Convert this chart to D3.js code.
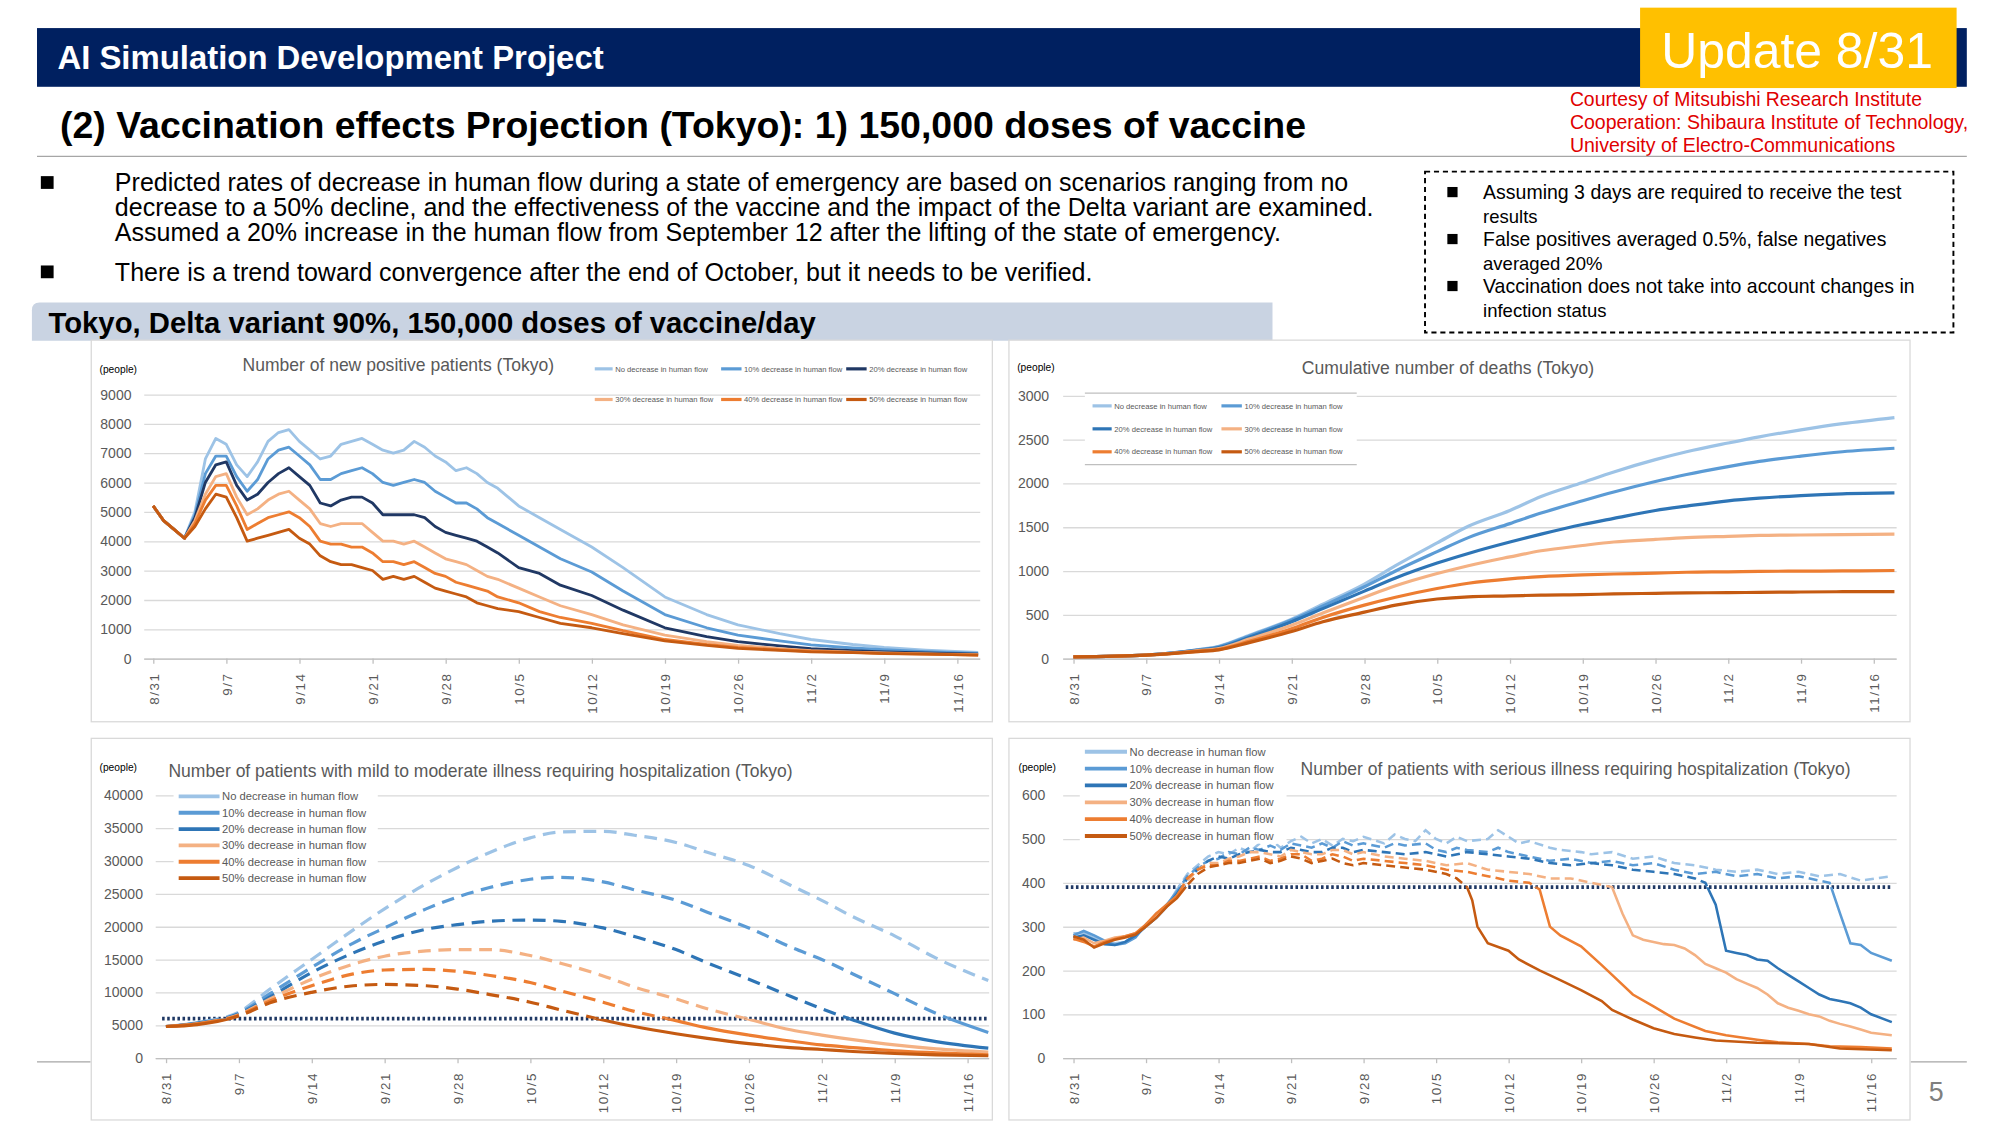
<!DOCTYPE html>
<html>
<head>
<meta charset="utf-8">
<script src="https://cdn.jsdelivr.net/npm/d3@7"></script>
<style>
body { margin: 0; background: #fff; }
svg { display: block; font-family: "Liberation Sans", Arial, sans-serif; }
</style>
</head>
<body>
<div id="slide"></div>
<script>
// ---- data ----
const scenarioLabels = ["No decrease in human flow", "10% decrease in human flow", "20% decrease in human flow",
  "30% decrease in human flow", "40% decrease in human flow", "50% decrease in human flow"]
const weekDays = [0, 7, 14, 21, 28, 35, 42, 49, 56, 63, 70, 77]
const weekLabels = ["8/31", "9/7", "9/14", "9/21", "9/28", "10/5", "10/12", "10/19", "10/26", "11/2", "11/9", "11/16"]

// new positive patients (day offsets from 8/31)
const newDays = [0,1,2,3,4,5,6,7,8,9,10,11,12,13,14,15,16,17,18,19,20,21,22,23,24,25,26,27,28,29,30,31,32,33,35,37,39,42,45,49,53,56,60,63,67,70,74,79]
const newNoDec = [5200,4700,4400,4100,5000,6800,7500,7300,6600,6200,6700,7400,7700,7800,7400,7100,6800,6900,7300,7400,7500,7300,7100,7000,7100,7400,7200,6900,6700,6400,6500,6300,6000,5800,5200,4800,4400,3800,3100,2100,1500,1150,850,650,480,380,290,210]
const newDec10 = [5200,4700,4400,4100,4900,6300,6900,6900,6200,5700,6100,6800,7100,7200,6900,6600,6100,6100,6300,6400,6500,6300,6000,5900,6000,6100,6000,5700,5500,5300,5300,5100,4800,4600,4200,3800,3400,2950,2300,1500,1050,800,600,470,360,300,240,180]
const newDec20 = [5200,4700,4400,4100,4800,6000,6600,6700,5900,5400,5600,6000,6300,6500,6200,5900,5300,5200,5400,5500,5500,5300,4900,4900,4900,4900,4800,4500,4300,4200,4100,4000,3800,3600,3100,2900,2500,2150,1650,1050,750,580,430,340,270,230,190,150]
const newDec30 = [5200,4700,4400,4100,4700,5600,6200,6300,5500,4900,5100,5400,5600,5700,5400,5100,4600,4500,4600,4600,4600,4300,4000,4000,3900,4000,3800,3600,3400,3300,3200,3000,2800,2700,2400,2100,1800,1500,1150,800,580,450,340,270,220,190,160,130]
const newDec40 = [5200,4700,4400,4100,4600,5400,5900,5900,5200,4400,4600,4800,4900,5000,4800,4500,4000,3900,3900,3800,3800,3600,3300,3300,3200,3300,3100,2900,2800,2600,2500,2400,2300,2100,1900,1600,1400,1200,950,650,480,380,300,250,210,180,150,120]
const newDec50 = [5200,4700,4400,4100,4500,5100,5600,5500,4800,4000,4100,4200,4300,4400,4100,3900,3500,3300,3200,3200,3100,3000,2700,2800,2700,2800,2600,2400,2300,2200,2100,1900,1800,1700,1600,1400,1200,1050,850,600,450,350,280,230,200,170,150,120]

// cumulative deaths
const deathDays = [0,7,10,12,14,17,21,24,28,31,35,38,42,45,49,52,56,59,63,66,70,74,79]
const deathNoDec = [20,40,70,100,140,270,450,620,850,1060,1320,1510,1690,1850,2010,2130,2270,2360,2460,2530,2610,2680,2750]
const deathDec10 = [20,40,70,100,135,260,440,600,820,1000,1220,1380,1540,1660,1800,1900,2020,2100,2190,2250,2310,2360,2400]
const deathDec20 = [20,40,68,95,125,245,420,570,770,920,1090,1200,1330,1420,1530,1600,1690,1740,1800,1830,1860,1880,1890]
const deathDec30 = [20,40,66,90,115,225,380,520,700,830,970,1060,1160,1230,1290,1330,1360,1380,1395,1405,1410,1415,1420]
const deathDec40 = [20,40,64,85,105,200,340,470,610,700,800,860,910,935,955,965,975,985,990,995,998,1000,1005]
const deathDec50 = [20,40,62,80,100,185,310,420,530,610,680,705,715,725,730,738,745,750,752,756,760,763,765]

// mild to moderate inpatients
const mildDays = [0,3,7,10,14,18,21,25,28,31,35,38,42,45,49,52,56,60,63,66,70,74,79]
const mildNoDec = [4800,5400,7000,10500,15000,19500,22700,26500,29000,31200,33500,34400,34500,33900,32800,31300,29300,26300,24000,21500,18600,15200,11800]
const mildDec10 = [4800,5300,6800,9800,13800,17500,19800,22700,24500,25900,27200,27500,26800,25600,24000,22200,19800,16900,15000,12800,9800,6800,3900]
const mildDec20 = [4800,5300,6700,9300,13000,16000,17800,19600,20300,20800,21000,20800,19800,18500,16500,14500,12000,9400,7500,5800,3800,2500,1500]
const mildDec30 = [4800,5200,6600,9000,12000,14300,15500,16300,16500,16500,15600,14400,12500,10800,9000,7500,5900,4300,3500,2800,2000,1400,900]
const mildDec40 = [4800,5200,6500,8700,11000,12800,13400,13500,13200,12600,11500,10200,8500,7100,5700,4600,3500,2600,2000,1600,1100,800,500]
const mildDec50 = [4800,5100,6400,8400,10000,11000,11200,11000,10500,9700,8500,7300,5800,4800,3700,3000,2200,1600,1300,1000,700,500,350]
const mildCapacity = 6000

// serious inpatients, [day, people]
const seriousNoDec = [[0,285],[1,285],[2,275],[3,265],[4,262],[5,265],[6,280],[7,300],[8,330],[9,345],[10,385],[11,420],[12,440],[13,460],[14,470],[15,465],[16,480],[17,470],[18,490],[19,500],[20,480],[21,495],[22,505],[23,490],[24,500],[25,485],[26,500],[27,495],[28,505],[30,490],[31,510],[32,500],[33,495],[34,520],[35,500],[36,490],[37,505],[38,495],[40,500],[41,520],[42,505],[43,490],[44,495],[46,480],[47,475],[49,470],[50,465],[52,470],[54,455],[56,460],[58,445],[60,440],[62,430],[64,425],[66,430],[68,420],[70,425],[72,415],[74,420],[76,405],[79,415]]
const seriousDec10 = [[0,280],[1,290],[2,280],[3,268],[4,258],[5,262],[6,275],[7,305],[8,325],[9,350],[10,380],[11,415],[12,435],[13,450],[14,455],[15,470],[16,465],[17,480],[18,475],[19,485],[20,475],[21,490],[22,485],[23,480],[24,490],[25,480],[26,495],[27,485],[28,490],[30,480],[31,490],[32,485],[34,490],[35,475],[36,470],[37,480],[38,475],[40,470],[41,480],[42,470],[44,460],[46,450],[48,455],[50,445],[52,450],[54,440],[56,445],[58,430],[60,420],[62,425],[64,415],[66,420],[68,410],[70,415],[72,405],[73,400],[74,330],[75,262],[76,258],[77,240],[79,222]]
const seriousDec20 = [[0,275],[1,280],[2,270],[3,260],[4,258],[5,265],[6,280],[7,300],[8,320],[9,345],[10,375],[11,410],[12,430],[13,450],[14,460],[15,455],[16,465],[17,470],[18,475],[19,470],[20,470],[21,480],[22,475],[23,470],[24,470],[25,480],[26,480],[27,470],[28,475],[30,470],[32,465],[34,470],[36,460],[38,470],[40,465],[42,460],[44,455],[46,445],[48,440],[50,445],[52,440],[54,430],[56,425],[58,420],[60,410],[61,400],[62,350],[63,245],[64,240],[65,235],[66,225],[67,222],[68,205],[69,190],[70,175],[71,160],[72,145],[73,135],[74,130],[75,125],[76,115],[77,100],[79,82]]
const seriousDec30 = [[0,270],[1,275],[2,262],[3,268],[4,275],[5,278],[6,285],[7,300],[8,325],[9,345],[10,370],[11,405],[12,430],[13,445],[14,445],[15,455],[16,460],[17,470],[18,470],[19,465],[20,460],[21,475],[22,470],[23,465],[24,465],[25,475],[26,475],[27,465],[28,470],[30,460],[32,455],[34,450],[36,440],[38,445],[40,430],[42,425],[44,420],[46,410],[48,410],[50,400],[52,390],[53,330],[54,280],[55,270],[56,265],[57,260],[58,258],[59,250],[60,235],[61,215],[62,205],[63,195],[64,180],[65,170],[66,160],[67,145],[68,125],[69,115],[70,108],[71,100],[72,95],[73,85],[74,78],[75,72],[76,65],[77,58],[79,52]]
const seriousDec40 = [[0,272],[1,265],[2,255],[3,265],[4,272],[5,278],[6,285],[7,305],[8,330],[9,350],[10,370],[11,410],[12,430],[13,440],[14,440],[15,450],[16,450],[17,455],[18,460],[19,450],[20,455],[21,465],[22,465],[23,450],[24,455],[25,465],[26,460],[27,450],[28,455],[30,450],[32,445],[34,440],[36,430],[38,425],[40,415],[42,405],[44,400],[45,385],[46,300],[47,280],[49,255],[51,212],[52,190],[54,145],[56,118],[58,90],[61,62],[63,52],[66,42],[68,36],[71,32],[73,27],[76,25],[79,22]]
const seriousDec50 = [[0,278],[1,270],[2,252],[3,262],[4,270],[5,275],[6,282],[7,300],[8,320],[9,345],[10,365],[11,395],[12,420],[13,435],[14,440],[15,445],[16,445],[17,450],[18,455],[19,445],[20,450],[21,460],[22,455],[23,445],[24,450],[25,455],[26,445],[27,440],[28,445],[30,440],[32,435],[34,430],[36,420],[37,410],[38,390],[38.5,360],[39,300],[40,262],[42,245],[43,225],[45,200],[47,178],[49,155],[51,130],[52,110],[54,88],[56,68],[58,55],[60,47],[62,40],[66,35],[71,32],[74,22],[79,18]]
const seriousCapacity = 390

// ---- styles ----
const blues = ["#9DC3E6", "#5B9BD5", "#2E75B6"]
const oranges = ["#F4B183", "#ED7D31", "#C55A11"]
const textGray = "#595959"

const W = 2000, H = 1126
const VW = 1567, VH = VW * H / W

const svg = d3.select("#slide").append("svg")
  .attr("width", W).attr("height", H)
  .attr("viewBox", `0 0 ${VW} ${VH}`)

// scale a text's font so it spans the width it has on the slide
const fit = (sel, w) => {
  const len = sel.node().getComputedTextLength()
  sel.attr("font-size", parseFloat(sel.attr("font-size")) * w / len)
  return sel
}

const addText = (x, y, str, size, opts = {}) => {
  const t = svg.append("text").attr("x", x).attr("y", y).text(str)
    .attr("font-size", size).attr("fill", opts.fill || "#000")
    .attr("font-weight", opts.bold ? "bold" : null)
    .attr("text-anchor", opts.anchor || null)
  if (opts.width) fit(t, opts.width)
  return t
}

// ---- header ----
svg.append("rect").attr("x", 29).attr("y", 22).attr("width", 1512).attr("height", 46).attr("fill", "#002060")
addText(45, 54, "AI Simulation Development Project", 22, { fill: "#fff", bold: true, width: 428 })
svg.append("rect").attr("x", 1285).attr("y", 6).attr("width", 248).attr("height", 63).attr("fill", "#FFC000")
addText(1408, 53, "Update 8/31", 38, { fill: "#fff", anchor: "middle", width: 213 })
addText(1230, 83, "Courtesy of Mitsubishi Research Institute", 14, { fill: "#E00000", width: 276 })
addText(1230, 101, "Cooperation: Shibaura Institute of Technology,", 14, { fill: "#E00000", width: 312 })
addText(1230, 119, "University of Electro-Communications", 14, { fill: "#E00000", width: 255 })
addText(47, 108, "(2) Vaccination effects Projection (Tokyo): 1) 150,000 doses of vaccine", 28, { bold: true, width: 976 })
svg.append("line").attr("x1", 29).attr("x2", 1541).attr("y1", 122.5).attr("y2", 122.5).attr("stroke", "#a6a6a6")

// bullets
svg.append("rect").attr("x", 32).attr("y", 138).attr("width", 10).attr("height", 10).attr("fill", "#000")
svg.append("rect").attr("x", 32).attr("y", 208).attr("width", 10).attr("height", 10).attr("fill", "#000")
addText(90, 150, "Predicted rates of decrease in human flow during a state of emergency are based on scenarios ranging from no", 18, { width: 967 })
addText(90, 169, "decrease to a 50% decline, and the effectiveness of the vaccine and the impact of the Delta variant are examined.", 18, { width: 986 })
addText(90, 189, "Assumed a 20% increase in the human flow from September 12 after the lifting of the state of emergency.", 18, { width: 914 })
addText(90, 220, "There is a trend toward convergence after the end of October, but it needs to be verified.", 18, { width: 766 })

// dashed note box
svg.append("rect").attr("x", 1116.5).attr("y", 134.5).attr("width", 414).attr("height", 126)
  .attr("fill", "none").attr("stroke", "#000").attr("stroke-width", 1.5).attr("stroke-dasharray", "4,3")
const notes = [
  ["Assuming 3 days are required to receive the test", 328], ["results", 0],
  ["False positives averaged 0.5%, false negatives", 316], ["averaged 20%", 0],
  ["Vaccination does not take into account changes in", 338], ["infection status", 0]
]
notes.forEach(([s, w], i) => {
  const yy = 156 + i * 18.4
  if (w) svg.append("rect").attr("x", 1134).attr("y", yy - 9.5).attr("width", 8).attr("height", 8).attr("fill", "#000")
  addText(1162, yy, s, 14.5, w ? { width: w } : {})
})

// banner
svg.append("path").attr("d", "M25,267V243Q25,237,31,237H997V267Z").attr("fill", "#C9D3E2")
addText(38, 261, "Tokyo, Delta variant 90%, 150,000 doses of vaccine/day", 22, { bold: true, width: 601 })

// footer
svg.append("line").attr("x1", 29).attr("x2", 71).attr("y1", 832).attr("y2", 832).attr("stroke", "#a6a6a6")
svg.append("line").attr("x1", 1497).attr("x2", 1541).attr("y1", 832).attr("y2", 832).attr("stroke", "#a6a6a6")
addText(1517, 863, "5", 21, { fill: "#7f7f7f", anchor: "middle" })

// ---- charts ----
let clipId = 0
const drawChart = (cfg) => {
  const g = svg.append("g")
  g.append("rect").attr("x", cfg.panel[0] + 0.5).attr("y", cfg.panel[1] + 0.5)
    .attr("width", cfg.panel[2]).attr("height", cfg.panel[3])
    .attr("fill", "#fff").attr("stroke", "#d9d9d9")

  const x = d3.scaleLinear().domain([0, 77]).range([cfg.x0, cfg.x1])
  const y = d3.scaleLinear().domain([0, cfg.yMax]).range([cfg.yBot, cfg.yTop])

  const yAxis = d3.axisLeft(y)
    .tickValues(d3.range(0, cfg.yMax + 1, cfg.yStep))
    .tickFormat(d3.format("d"))
    .tickSize(-(cfg.gx1 - cfg.gx0))
    .tickPadding(cfg.gx0 - cfg.yLabelX)
  g.append("g").attr("transform", `translate(${cfg.gx0},0)`).call(yAxis)
    .attr("font-family", null).attr("font-size", 11)
    .call(a => a.select(".domain").remove())
    .call(a => a.selectAll("line").attr("stroke", "#d9d9d9"))
    .call(a => a.selectAll("text").attr("fill", textGray))

  const xAxis = d3.axisBottom(x).tickValues(weekDays).tickFormat((d, i) => weekLabels[i]).tickSize(4)
  g.append("g").attr("transform", `translate(0,${cfg.yBot})`).call(xAxis)
    .attr("font-family", null).attr("font-size", 10.5)
    .call(a => a.select(".domain").remove())
    .call(a => a.selectAll("line").attr("stroke", "#bfbfbf"))
    .call(a => a.selectAll("text").attr("fill", textGray)
      .attr("transform", "rotate(-90)").attr("text-anchor", "end")
      .attr("x", -11).attr("y", 0).attr("dy", "0.35em").attr("letter-spacing", 1.2))
  g.append("line").attr("x1", cfg.gx0).attr("x2", cfg.gx1).attr("y1", cfg.yBot + 0.5).attr("y2", cfg.yBot + 0.5)
    .attr("stroke", "#bfbfbf")

  g.append("text").attr("x", cfg.people[0]).attr("y", cfg.people[1]).text("(people)")
    .attr("font-size", 8).attr("fill", "#000")
  const tt = g.append("text").attr("x", cfg.title[0]).attr("y", cfg.title[1]).text(cfg.titleText)
    .attr("font-size", 13).attr("fill", textGray)
  fit(tt, cfg.title[2])

  const line = d3.line().x(d => x(d[0])).y(d => y(d[1])).curve(cfg.curve || d3.curveLinear)

  if (cfg.capacity !== undefined) {
    const yc = y(cfg.capacity)
    const top = cfg.panel[1], bot = cfg.panel[1] + cfg.panel[3]
    const above = "clip" + (clipId++), below = "clip" + (clipId++)
    const defs = g.append("defs")
    defs.append("clipPath").attr("id", above).append("rect")
      .attr("x", cfg.panel[0]).attr("y", top).attr("width", cfg.panel[2]).attr("height", yc - top)
    defs.append("clipPath").attr("id", below).append("rect")
      .attr("x", cfg.panel[0]).attr("y", yc).attr("width", cfg.panel[2]).attr("height", bot - yc)
    g.append("line").attr("x1", cfg.capX[0]).attr("x2", cfg.capX[1]).attr("y1", yc).attr("y2", yc)
      .attr("stroke", "#1F3864").attr("stroke-width", 3).attr("stroke-dasharray", "2,2")
    cfg.series.forEach((s, i) => {
      g.append("path").attr("d", line(s)).attr("fill", "none").attr("stroke", cfg.colors[i])
        .attr("stroke-width", cfg.lw).attr("clip-path", `url(#${below})`)
      g.append("path").attr("d", line(s)).attr("fill", "none").attr("stroke", cfg.colors[i])
        .attr("stroke-width", cfg.lw).attr("stroke-dasharray", cfg.dash).attr("clip-path", `url(#${above})`)
    })
  } else {
    cfg.series.forEach((s, i) => {
      g.append("path").attr("d", line(s)).attr("fill", "none").attr("stroke", cfg.colors[i])
        .attr("stroke-width", cfg.lw).attr("stroke-linejoin", "round")
    })
  }

  // legend
  const lg = g.append("g")
  if (cfg.legendBox) {
    const b = cfg.legendBox
    lg.append("rect").attr("x", b[0]).attr("y", b[1]).attr("width", b[2]).attr("height", b[3]).attr("fill", "#fff")
    if (b[4]) {
      lg.append("line").attr("x1", b[0]).attr("x2", b[0] + b[2]).attr("y1", b[1]).attr("y2", b[1]).attr("stroke", "#bfbfbf")
      lg.append("line").attr("x1", b[0]).attr("x2", b[0] + b[2]).attr("y1", b[1] + b[3]).attr("y2", b[1] + b[3]).attr("stroke", "#bfbfbf")
    }
  }
  cfg.legend.forEach((p, i) => {
    lg.append("line").attr("x1", p[0]).attr("x2", p[1]).attr("y1", p[2]).attr("y2", p[2])
      .attr("stroke", cfg.colors[i]).attr("stroke-width", cfg.legendLw)
    lg.append("text").attr("x", p[1] + 2).attr("y", p[2]).attr("dy", "0.35em").text(scenarioLabels[i])
      .attr("font-size", cfg.legendFs).attr("fill", textGray)
  })
}

const zipDays = (days, vals) => d3.zip(days, vals)

drawChart({
  panel: [71, 266, 706, 299],
  x0: 120, x1: 750, yTop: 309, yBot: 516, yMax: 9000, yStep: 1000,
  gx0: 113, gx1: 768, yLabelX: 103,
  people: [78, 292], title: [190, 291, 244], titleText: "Number of new positive patients (Tokyo)",
  series: [newNoDec, newDec10, newDec20, newDec30, newDec40, newDec50].map(v => zipDays(newDays, v)),
  colors: [blues[0], blues[1], "#203864", oranges[0], oranges[1], oranges[2]],
  lw: 2.2,
  legendLw: 2.5, legendFs: 6,
  legend: [[466, 480, 289], [565, 581, 289], [663, 679, 289], [466, 480, 313], [565, 581, 313], [663, 679, 313]]
})

drawChart({
  panel: [790, 266, 706, 299],
  x0: 841, x1: 1468, yTop: 310, yBot: 516, yMax: 3000, yStep: 500,
  gx0: 833, gx1: 1486, yLabelX: 822,
  people: [797, 291], title: [1020, 293, 229], titleText: "Cumulative number of deaths (Tokyo)",
  series: [deathNoDec, deathDec10, deathDec20, deathDec30, deathDec40, deathDec50].map(v => zipDays(deathDays, v)),
  colors: [blues[0], blues[1], blues[2], oranges[0], oranges[1], oranges[2]],
  curve: d3.curveMonotoneX, lw: 2.5,
  legendBox: [850, 308, 213, 56, true], legendLw: 2.5, legendFs: 6,
  legend: [[856, 871, 318], [957, 973, 318], [856, 871, 336], [957, 973, 336], [856, 871, 354], [957, 973, 354]]
})

drawChart({
  panel: [71, 578, 706, 299],
  x0: 130, x1: 758, yTop: 623, yBot: 829, yMax: 40000, yStep: 5000,
  gx0: 122, gx1: 775, yLabelX: 112,
  people: [78, 604], title: [132, 609, 489], titleText: "Number of patients with mild to moderate illness requiring hospitalization (Tokyo)",
  series: [mildNoDec, mildDec10, mildDec20, mildDec30, mildDec40, mildDec50].map(v => zipDays(mildDays, v)),
  colors: [blues[0], blues[1], blues[2], oranges[0], oranges[1], oranges[2]],
  curve: d3.curveMonotoneX, lw: 2.5, dash: "10,6",
  capacity: mildCapacity, capX: [127, 773],
  legendBox: [136, 617, 160, 76, false], legendLw: 3, legendFs: 8.8,
  legend: d3.range(6).map(i => [140, 172, 624 + i * 12.8])
})

drawChart({
  panel: [790, 578, 706, 299],
  x0: 841, x1: 1466, yTop: 623, yBot: 829, yMax: 600, yStep: 100,
  gx0: 833, gx1: 1486, yLabelX: 819,
  people: [798, 604], title: [1019, 607, 431], titleText: "Number of patients with serious illness requiring hospitalization (Tokyo)",
  series: [seriousNoDec, seriousDec10, seriousDec20, seriousDec30, seriousDec40, seriousDec50],
  colors: [blues[0], blues[1], blues[2], oranges[0], oranges[1], oranges[2]],
  lw: 2, dash: "7,4",
  capacity: seriousCapacity, capX: [835, 1482],
  legendBox: [846, 582, 162, 79, false], legendLw: 3, legendFs: 8.8,
  legend: d3.range(6).map(i => [850, 883, 589 + i * 13.2])
})
</script>
</body>
</html>
